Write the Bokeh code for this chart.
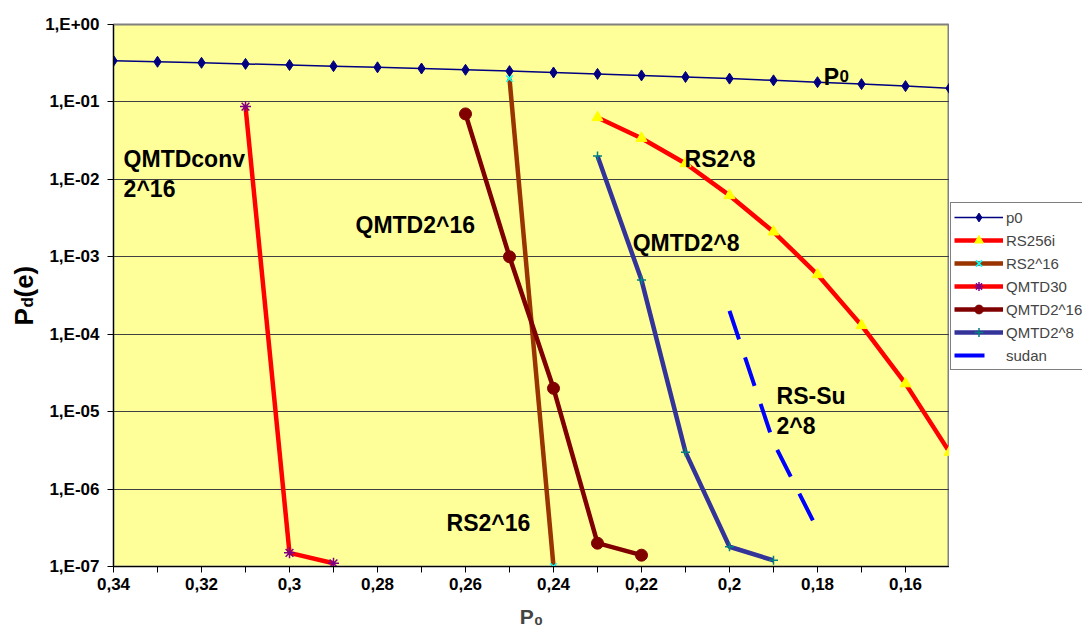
from math import pi
from bokeh.plotting import figure
from bokeh.layouts import row
from bokeh.models import (Range1d, FixedTicker, Label, Legend, LegendItem,
                          CustomJSTickFormatter)
from bokeh.embed import file_html
from bokeh.resources import INLINE

# ---- data ----
p0_x = [0.34, 0.33, 0.32, 0.31, 0.30, 0.29, 0.28, 0.27, 0.26, 0.25,
        0.24, 0.23, 0.22, 0.21, 0.20, 0.19, 0.18, 0.17, 0.16, 0.15]
p0_y = [0.34, 0.33, 0.32, 0.31, 0.30, 0.29, 0.28, 0.27, 0.26, 0.25,
        0.24, 0.23, 0.22, 0.21, 0.20, 0.19, 0.18, 0.17, 0.16, 0.15]
rs256i_x = [0.23, 0.22, 0.21, 0.20, 0.19, 0.18, 0.17, 0.16, 0.15]
rs256i_y = [0.063, 0.034, 0.016, 0.0062, 0.0021, 5.9e-4, 1.3e-4, 2.3e-5, 3.0e-6]
rs2_16_x = [0.25, 0.24]
rs2_16_y = [0.2, 1e-7]
qmtd30_x = [0.31, 0.30, 0.29]
qmtd30_y = [0.087, 1.5e-7, 1.1e-7]
qmtd2_16_x = [0.26, 0.25, 0.24, 0.23, 0.22]
qmtd2_16_y = [0.07, 1e-3, 2e-5, 2e-7, 1.4e-7]
qmtd2_8_x = [0.23, 0.22, 0.21, 0.20, 0.19]
qmtd2_8_y = [0.02, 5e-4, 3e-6, 1.8e-7, 1.2e-7]
sudan_x = [0.20, 0.19, 0.18]
sudan_y = [2e-4, 4e-6, 3e-7]

x_major = [0.34, 0.32, 0.30, 0.28, 0.26, 0.24, 0.22, 0.20, 0.18, 0.16]
x_minor = [0.33, 0.31, 0.29, 0.27, 0.25, 0.23, 0.21, 0.19, 0.17, 0.15]
y_ticks = [1e-7, 1e-6, 1e-5, 1e-4, 1e-3, 1e-2, 1e-1, 1.0]

# in-plot annotation texts: (text, x, y, size)
notes = [
    ("QMTDconv", 0.3377, 0.0181, "23px"),
    ("2^16", 0.3377, 0.0074, "23px"),
    ("QMTD2^16", 0.285, 0.00261, "23px"),
    ("RS2^16", 0.2643, 3.6e-7, "23px"),
    ("QMTD2^8", 0.222, 0.00149, "23px"),
    ("RS2^8", 0.2102, 0.0181, "23px"),
    ("RS-Su", 0.1893, 1.57e-5, "23px"),
    ("2^8", 0.1893, 6.43e-6, "23px"),
    ("P", 0.1786, 0.207, "23px"),
    ("0", 0.1750, 0.216, "17px"),
]

# series styles: (name, x, y, line colour, line width, dash, marker, size, marker colour, filled)
series = [
    ("p0", p0_x, p0_y, "#000080", 1.5, "solid", "diamond", 11, "#000080", True),
    ("RS256i", rs256i_x, rs256i_y, "#FF0000", 4.5, "solid", "triangle", 11, "#FFFF00", True),
    ("RS2^16", rs2_16_x, rs2_16_y, "#993300", 4.5, "solid", "x", 9, "#00FFFF", False),
    ("QMTD30", qmtd30_x, qmtd30_y, "#FF0000", 4.5, "solid", "asterisk", 11, "#800080", False),
    ("QMTD2^16", qmtd2_16_x, qmtd2_16_y, "#800000", 4.5, "solid", "circle", 12, "#800000", True),
    ("QMTD2^8", qmtd2_8_x, qmtd2_8_y, "#333399", 4.5, "solid", "cross", 9, "#008080", False),
    ("sudan", sudan_x, sudan_y, "#0000FF", 4, "30 19", None, 0, None, False),
]

FONT = "Liberation Sans"


def add_series(fig, name, xs, ys, lc, lw, dash, marker, size, mc, filled):
    rs = [fig.line(xs, ys, line_color=lc, line_width=lw, line_dash=dash)]
    if marker is not None:
        if filled:
            rs.append(fig.scatter(xs, ys, marker=marker, size=size,
                                  fill_color=mc, line_color=mc))
        else:
            rs.append(fig.scatter(xs, ys, marker=marker, size=size,
                                  line_color=mc, line_width=1.5))
    return rs


# ---------------- main chart ----------------
p = figure(width=909, height=635, output_backend="svg", toolbar_location=None,
           x_range=Range1d(0.34, 0.15), y_range=Range1d(1e-7, 1.0),
           y_axis_type="log",
           min_border_left=73, min_border_right=0,
           min_border_top=24, min_border_bottom=69)

p.background_fill_color = "#FFFF99"
p.border_fill_color = "white"
p.outline_line_color = "#808080"
p.outline_line_width = 2

p.xaxis.ticker = FixedTicker(ticks=x_major, minor_ticks=x_minor)
p.xaxis.formatter = CustomJSTickFormatter(
    code="return tick.toFixed(2).replace(/0+$/, '').replace('.', ',');")
p.yaxis.ticker = FixedTicker(ticks=y_ticks, minor_ticks=[])
p.yaxis.formatter = CustomJSTickFormatter(
    code="const e = Math.round(Math.log10(tick));"
         "return '1,E' + (e < 0 ? '-' : '+') + String(Math.abs(e)).padStart(2, '0');")
for ax in (p.xaxis[0], p.yaxis[0]):
    ax.axis_line_color = "black"
    ax.axis_line_width = 1
    ax.major_tick_line_color = "black"
    ax.minor_tick_line_color = "black"
    ax.major_tick_out = 6
    ax.major_tick_in = 0
    ax.minor_tick_out = 6
    ax.minor_tick_in = 0
    ax.major_label_text_font = FONT
    ax.major_label_text_font_style = "bold"
    ax.major_label_text_font_size = "17px"
    ax.major_label_text_color = "black"
p.yaxis.major_label_standoff = 8
p.xaxis.major_label_standoff = 5

p.xaxis.axis_label = "P\u2080"
p.xaxis.axis_label_text_font = FONT
p.xaxis.axis_label_text_font_style = "bold"
p.xaxis.axis_label_text_font_size = "21px"
p.xaxis.axis_label_standoff = 12

p.xgrid.visible = False
p.ygrid.ticker = FixedTicker(ticks=y_ticks)
p.ygrid.grid_line_color = "#404040"
p.ygrid.grid_line_width = 1

for s in series:
    add_series(p, *s)

for txt, xx, yy, sz in notes:
    p.add_layout(Label(x=xx, y=yy, text=txt, text_font=FONT,
                       text_font_style="bold", text_font_size=sz,
                       text_color="black", text_baseline="alphabetic",
                       text_align="left"))

# ---------------- y-axis title strip ----------------
ylab = figure(width=40, height=635, output_backend="svg", toolbar_location=None,
              x_axis_location=None, y_axis_location=None,
              x_range=Range1d(0, 1), y_range=Range1d(0, 1),
              min_border_left=0, min_border_right=0,
              min_border_top=0, min_border_bottom=0)
ylab.grid.visible = False
ylab.outline_line_color = None
ylab.border_fill_color = "white"
ylab.background_fill_color = "white"


def ylabel(x, y, text, size):
    ylab.add_layout(Label(x=x, y=y, x_units="screen", y_units="screen",
                          text=text, text_font=FONT, text_font_style="bold",
                          text_font_size=size, text_color="black",
                          text_baseline="alphabetic", text_align="left",
                          angle=pi / 2))


ylabel(23, 241, "P", "26px")
ylabel(27, 259, "d", "17px")
ylabel(23, 269, "(e)", "26px")

# ---------------- legend strip ----------------
# The legend lives in its own narrow figure; its proxy renderers reuse the
# series data but the strip's y-range lies far above it, so nothing is drawn.
leg = figure(width=133, height=635, output_backend="svg", toolbar_location=None,
             x_axis_location=None, y_axis_location=None,
             x_range=Range1d(0, 1), y_range=Range1d(10, 11),
             min_border_left=0, min_border_right=0,
             min_border_top=0, min_border_bottom=0)
leg.grid.visible = False
leg.outline_line_color = None
leg.border_fill_color = "white"
leg.background_fill_color = "white"

items = []
for s in series:
    rs = add_series(leg, *s)
    items.append(LegendItem(label=s[0], renderers=rs))

legend = Legend(items=items, location=(1, 196))
legend.label_text_font = FONT
legend.label_text_font_size = "15px"
legend.label_height = 22
legend.glyph_height = 22
legend.glyph_width = 49
legend.label_standoff = 3
legend.spacing = 1
legend.padding = 3
legend.margin = 0
legend.border_line_color = "black"
legend.border_line_width = 1
legend.background_fill_color = "white"
legend.background_fill_alpha = 1.0
leg.add_layout(legend, "center")

layout = row(ylab, p, leg, spacing=0)
open("out.html", "w").write(file_html(layout, INLINE))
